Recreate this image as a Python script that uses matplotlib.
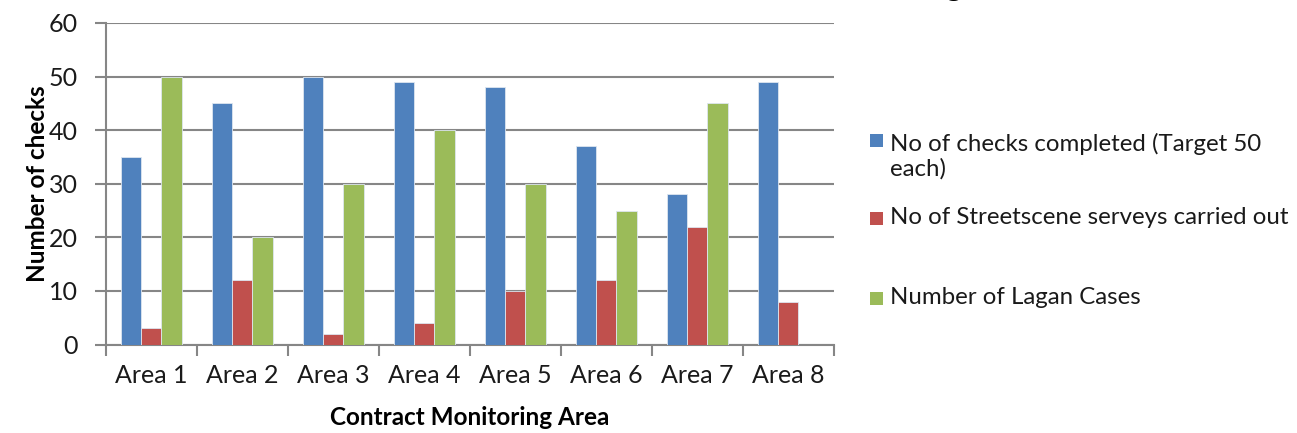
import matplotlib
matplotlib.use("Agg")
import matplotlib.pyplot as plt
import numpy as np
from matplotlib.patches import Rectangle

areas = ["Area 1", "Area 2", "Area 3", "Area 4", "Area 5", "Area 6", "Area 7", "Area 8"]
checks_completed = [35, 45, 50, 49, 48, 37, 28, 49]
streetscene_surveys = [3, 12, 2, 4, 10, 12, 22, 8]
lagan_cases = [50, 20, 30, 40, 30, 25, 45, 0]
series_labels = ["No of checks completed (Target 50\neach)",
                 "No of Streetscene serveys carried out",
                 "Number of Lagan Cases"]
colors = ["#4F81BD", "#C0504D", "#9BBB59"]

plt.rcParams["font.family"] = ["Lato", "DejaVu Sans"]

W, H = 1297, 433
fig = plt.figure(figsize=(W / 100, H / 100), dpi=100)
ax = fig.add_axes([105.7 / W, 1 - 344.5 / H, (833.7 - 105.7) / W, (344.5 - 23) / H])

x = np.arange(len(areas))
bw = 0.222
for i, (vals, c) in enumerate(zip([checks_completed, streetscene_surveys, lagan_cases], colors)):
    ax.bar(x + (i - 1) * bw, vals, bw, color=c, edgecolor="#dde6f0", linewidth=0.6, zorder=3)

ax.set_xlim(-0.5, len(areas) - 0.5)
ax.set_ylim(0, 60)
ax.set_yticks(range(0, 61, 10))
ax.yaxis.grid(True, color="#868686", linewidth=1.5, zorder=0)
ax.set_axisbelow(True)
for s in ["top", "right"]:
    ax.spines[s].set_visible(False)
for s in ["left", "bottom"]:
    ax.spines[s].set_color("#868686")
    ax.spines[s].set_linewidth(1.5)

ax.set_xticks(np.arange(len(areas) + 1) - 0.5)
ax.set_xticklabels([])
ax.set_xticks(x, minor=True)
ax.set_xticklabels(areas, minor=True, fontsize=18, color="#1a1a1a")
ax.tick_params(axis="x", which="major", length=8, width=1.5, color="#868686")
ax.tick_params(axis="x", which="minor", length=0, pad=14)
ax.tick_params(axis="y", length=8, width=1.5, color="#868686", labelsize=18,
               labelcolor="#1a1a1a", pad=12)

ax.set_ylabel("Number of checks", fontsize=17.5, fontweight="bold", labelpad=0)
ax.set_xlabel("Contract Monitoring Area", fontsize=17.5, fontweight="bold", labelpad=14)

# Legend drawn as swatches with text beside them
legend_rows = [156, 218, 298]
for lab, c, yc in zip(series_labels, colors, legend_rows):
    top_line = yc - (16 if "\n" in lab else 0)
    fig.patches.append(Rectangle((870 / W, 1 - (top_line + 7) / H), 13 / W, 13 / H,
                                 transform=fig.transFigure, facecolor=c, edgecolor="none"))
    fig.text(890 / W, 1 - yc / H, lab, fontsize=17.3, va="center", ha="left",
             color="#1a1a1a", linespacing=1.2)

fig.text(962 / W, 1 + 4 / H, "Contract Monitoring", fontsize=22, fontweight="bold",
         ha="right", va="baseline")

fig.savefig("out.png", dpi=100)
